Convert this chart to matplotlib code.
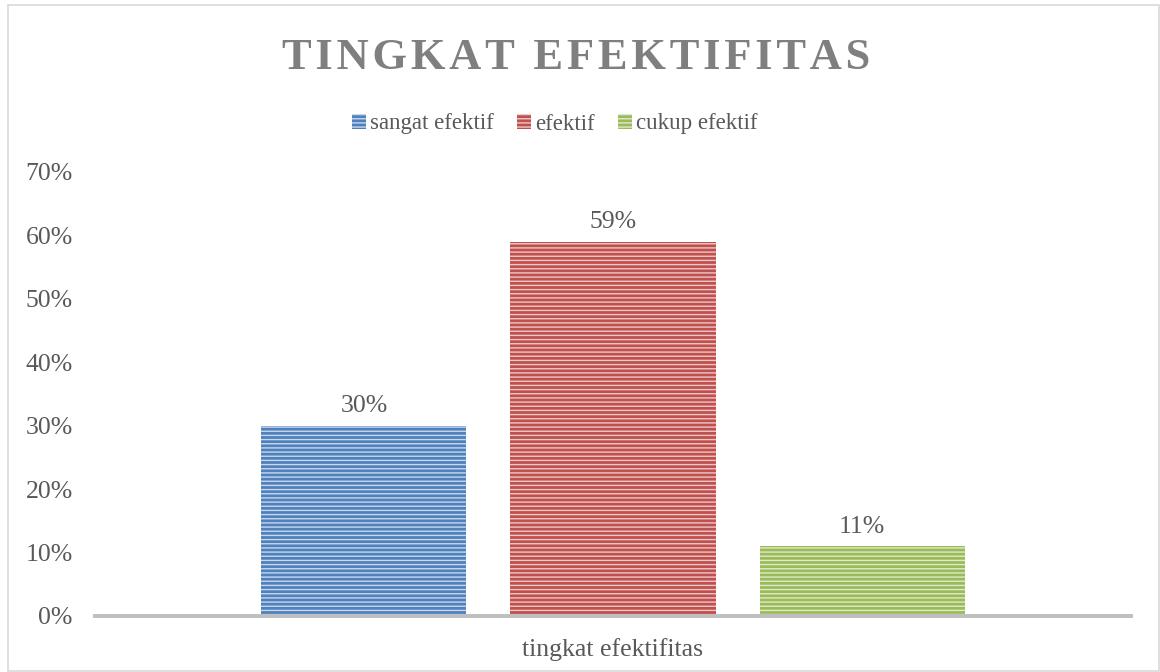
import matplotlib
matplotlib.use("Agg")
import matplotlib.pyplot as plt
from matplotlib.patches import Rectangle

# data
series = ["sangat efektif", "efektif", "cukup efektif"]
values = [0.30, 0.59, 0.11]
category = ["tingkat efektifitas"]
yticks = [0.0, 0.1, 0.2, 0.3, 0.4, 0.5, 0.6, 0.7]
title = "TINGKAT EFEKTIFITAS"

colors = ["#4f81bd", "#c0504d", "#9bbb59"]
stripes = ["#c9d7ea", "#ecc9c8", "#dfe9cb"]
text_color = "#595959"

plt.rcParams["font.family"] = ["Liberation Serif", "DejaVu Serif"]
plt.rcParams["hatch.linewidth"] = 1.0

fig = plt.figure(figsize=(11.6, 6.72), dpi=100)
ax = fig.add_axes([95 / 1160, 1 - 616 / 672, 1036 / 1160, 444 / 672])

# outer chart border
fig.patches.append(Rectangle((8 / 1160, 1 / 672), 1151 / 1160, 666 / 672,
                             transform=fig.transFigure, fill=False,
                             edgecolor="#d9d9d9", linewidth=1.2))

width = 205 / 249
xs = [-1, 0, 1]
bars = []
for x, v, name, c, s in zip(xs, values, series, colors, stripes):
    b = ax.bar(x, v, width, color=c, edgecolor=s, hatch="----",
               linewidth=0, label=name)
    bars.append(b)
    ax.annotate(f"{v:.0%}", (x, v), xytext=(0, 6), textcoords="offset points",
                ha="center", va="bottom", fontsize=18.5, color=text_color)

ax.set_xlim(-2.08, 2.08)
ax.set_ylim(0, 0.7)
ax.set_yticks(yticks)
ax.set_yticklabels([f"{t:.0%}" for t in yticks])
ax.set_xticks([0])
ax.set_xticklabels(category)
ax.tick_params(axis="y", length=0, pad=16, labelsize=18.5, labelcolor=text_color)
ax.tick_params(axis="x", length=0, pad=16, labelsize=18.5, labelcolor=text_color)

for side in ["top", "right", "left"]:
    ax.spines[side].set_visible(False)
ax.spines["bottom"].set_color("#bfbfbf")
ax.spines["bottom"].set_linewidth(2.8)

# letter-spaced title (hair spaces between letters)
spaced = "\u200a".join(title)
fig.text(576 / 1160, 1 - 58 / 672, spaced, ha="center", va="center",
         fontsize=32, fontweight="bold", color="#7f7f7f")

fig.legend(handles=bars, loc="center", bbox_to_anchor=(555 / 1160, 1 - 124 / 672),
           ncol=3, frameon=False, fontsize=16.5, labelcolor=text_color,
           handlelength=0.6, handleheight=0.6, handletextpad=0.2,
           columnspacing=1.0)

fig.savefig("out.png", dpi=100)
